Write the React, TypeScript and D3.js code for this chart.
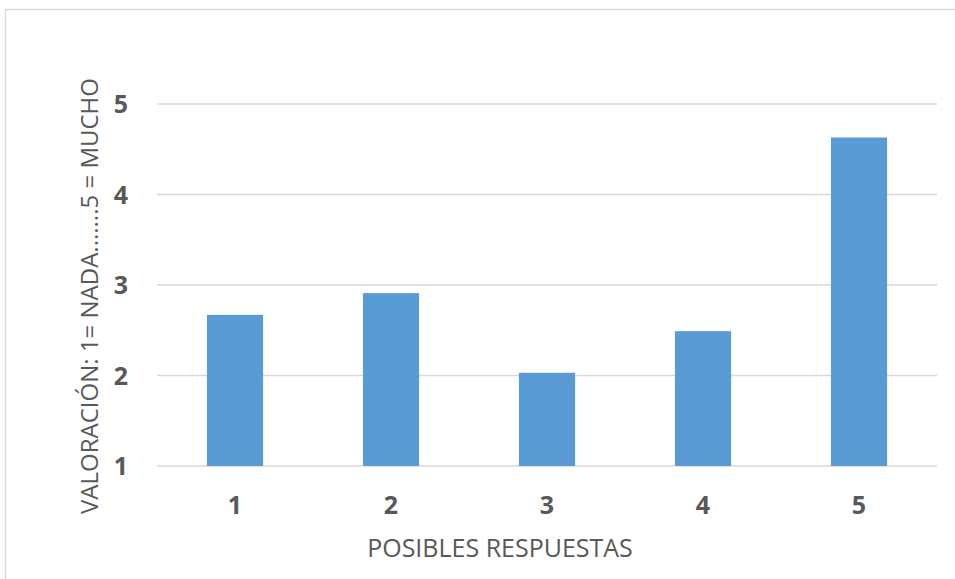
import React from "react";
import * as d3 from "d3";

const categories = ["1", "2", "3", "4", "5"];
const values = [2.67, 2.91, 2.03, 2.49, 4.63];
const yTicks = [1, 2, 3, 4, 5];
const xTitle = "POSIBLES RESPUESTAS";
const yTitle = "VALORACIÓN:  1= NADA.......5 = MUCHO";

export default function App() {
  const W = 955, H = 579;
  const left = 157, right = 937, top = 104, bottom = 466;
  const x = d3.scaleBand().domain(categories).range([left, right]).paddingInner(0.64).paddingOuter(0.32);
  const y = d3.scaleLinear().domain([1, 5]).range([bottom, top]);
  const font = "'Open Sans', 'Liberation Sans', sans-serif";
  return (
    <svg width={W} height={H} style={{ position: "absolute", left: 0, top: 0 }}>
      <rect x={0} y={0} width={W} height={H} fill="#fff" />
      <path d={`M5.5,${H} V9.5 H${W}`} fill="none" stroke="#d9d9d9" strokeWidth={1.5} />
      {yTicks.map((t) => (
        <g key={t}>
          <line x1={left} x2={right} y1={y(t)} y2={y(t)} stroke="#d9d9d9" strokeWidth={1.5} />
          <text x={128} y={y(t)} dy="0.36em" textAnchor="end" fontFamily={font} fontWeight="bold" fontSize={25} fill="#595959">{t}</text>
        </g>
      ))}
      {categories.map((c, i) => (
        <g key={c}>
          <rect x={x(c)} y={y(values[i])} width={x.bandwidth()} height={bottom - y(values[i])} fill="#5b9bd5" />
          <text x={(x(c) as number) + x.bandwidth() / 2} y={505} dy="0.36em" textAnchor="middle" fontFamily={font} fontWeight="bold" fontSize={25} fill="#595959">{c}</text>
        </g>
      ))}
      <text x={500} y={548} dy="0.36em" textAnchor="middle" fontFamily={font} fontSize={25} fill="#595959">{xTitle}</text>
      <text transform={`translate(89,296) rotate(-90)`} dy="0.36em" textAnchor="middle" fontFamily={font} fontSize={24} fill="#595959">{yTitle}</text>
    </svg>
  );
}
